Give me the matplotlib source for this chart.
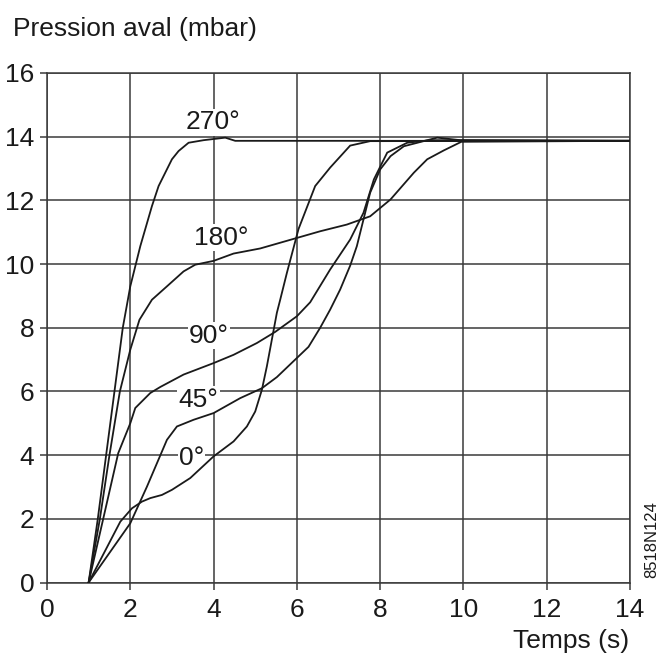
import matplotlib
matplotlib.use("Agg")
import matplotlib.pyplot as plt

plt.rcParams['font.family'] = ['Liberation Sans', 'DejaVu Sans']

# Data: time (s) vs downstream pressure (mbar)
t_270 = [1.0, 1.22, 1.42, 1.62, 1.82, 2.0, 2.24, 2.52, 2.68, 3.0, 3.16, 3.4, 3.76, 4.28, 4.52, 14.0]
p_270 = [0.0, 2.0, 4.0, 6.0, 8.0, 9.3, 10.56, 11.82, 12.45, 13.29, 13.55, 13.81, 13.89, 13.97, 13.87, 13.87]

t_180 = [1.0, 1.27, 1.5, 1.75, 2.0, 2.22, 2.52, 2.88, 3.28, 3.56, 4.0, 4.48, 5.12, 6.0, 6.56, 7.2, 7.76,
         8.25, 8.81, 9.13, 9.53, 9.95, 14.0]
p_180 = [0.0, 2.0, 4.0, 6.0, 7.31, 8.25, 8.88, 9.3, 9.77, 9.98, 10.1, 10.33, 10.49, 10.82, 11.03, 11.24, 11.5,
         12.03, 12.87, 13.29, 13.57, 13.84, 13.87]

t_90 = [1.0, 1.35, 1.71, 2.0, 2.12, 2.48, 2.72, 3.28, 4.0, 4.48, 5.04, 5.48, 6.0, 6.32, 6.8, 7.28, 7.6,
        7.85, 8.17, 8.65, 9.2, 14.0]
p_90 = [0.0, 2.0, 4.06, 5.0, 5.48, 5.95, 6.14, 6.53, 6.89, 7.15, 7.52, 7.87, 8.36, 8.8, 9.83, 10.77, 11.61,
        12.66, 13.5, 13.81, 13.89, 13.87]

t_45 = [1.0, 2.0, 2.4, 2.88, 3.12, 3.52, 4.0, 4.64, 5.16, 5.52, 6.0, 6.28, 6.56, 6.8, 7.04, 7.28, 7.44,
        7.6, 7.76, 8.0, 8.25, 8.57, 9.37, 9.93, 14.0]
p_45 = [0.0, 1.86, 3.01, 4.48, 4.9, 5.11, 5.32, 5.79, 6.1, 6.45, 7.05, 7.4, 8.0, 8.57, 9.2, 9.95, 10.56,
        11.4, 12.24, 12.97, 13.39, 13.7, 13.97, 13.89, 13.87]

t_0 = [1.0, 1.76, 2.04, 2.28, 2.48, 2.76, 3.0, 3.44, 4.0, 4.48, 4.8, 5.0, 5.16, 5.28, 5.4, 5.52, 5.6,
       5.76, 6.04, 6.44, 6.8, 7.28, 7.76, 14.0]
p_0 = [0.0, 1.91, 2.33, 2.54, 2.65, 2.75, 2.91, 3.28, 3.96, 4.43, 4.9, 5.37, 6.05, 6.79, 7.63, 8.47, 8.88,
       9.72, 11.1, 12.45, 13.03, 13.72, 13.86, 13.87]

series = [(t_270, p_270), (t_180, p_180), (t_90, p_90), (t_45, p_45), (t_0, p_0)]

labels = ["270°", "180°", "90°", "45°", "0°"]
label_x = [3.99, 4.19, 3.89, 3.64, 3.47]
label_y = [14.23, 10.61, 7.53, 5.52, 3.70]

x_ticks = [0, 2, 4, 6, 8, 10, 12, 14]
y_ticks = [0, 2, 4, 6, 8, 10, 12, 14, 16]

fig = plt.figure(figsize=(6.58, 6.64), dpi=100)
ax = fig.add_axes([47/658, 1-582.5/664, (630-47)/658, (582.5-73)/664])

grid_c = '#3a3a3a'
ax.set_xlim(0, 14)
ax.set_ylim(0, 16)
ax.set_xticks(x_ticks)
ax.set_yticks(y_ticks)
ax.grid(True, color=grid_c, linewidth=1.1)
ax.set_axisbelow(True)
for s in ax.spines.values():
    s.set_color(grid_c)
    s.set_linewidth(1.1)
ax.tick_params(direction='out', length=5, width=1.1, color=grid_c,
               labelsize=19, labelcolor='#1a1a1a', pad=4)
ax.tick_params(axis='x', pad=6)

for t, p in series:
    ax.plot(t, p, color='#1a1a1a', linewidth=1.3, solid_joinstyle='miter', zorder=3)

for lab, lx, ly in zip(labels, label_x, label_y):
    ax.text(lx, ly, lab, fontsize=19, ha='center', va='baseline', color='#1a1a1a', zorder=2.5,
            bbox=dict(facecolor='white', edgecolor='none', pad=1.0))

fig.text(13/658, 1-36/664, "Pression aval (mbar)", fontsize=19, ha='left', va='baseline', color='#1a1a1a')
fig.text(629/658, 1-648/664, "Temps (s)", fontsize=19, ha='right', va='baseline', color='#1a1a1a')
fig.text(652/658, 1-578/664, "8518N124", fontsize=12, rotation=90, ha='center', va='bottom', color='#1a1a1a')

fig.savefig("out.png", dpi=100)
